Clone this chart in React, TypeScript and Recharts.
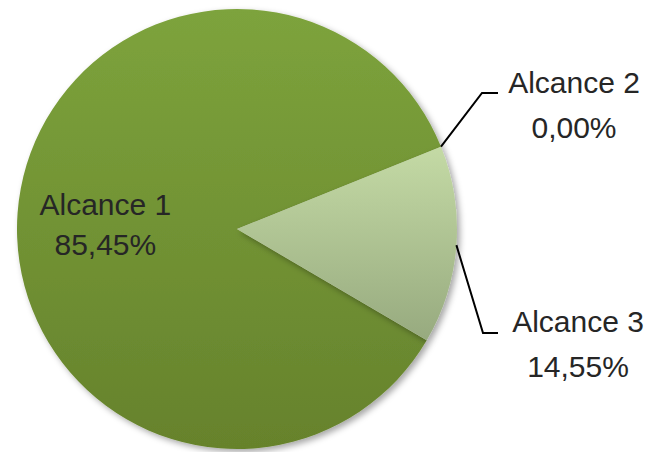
import { PieChart, Pie, Cell } from 'recharts';

const names = ['Alcance 1', 'Alcance 2', 'Alcance 3'];
const shares = [85.45, 0, 14.55];
const fills = ['url(#g1)', 'url(#g1)', 'url(#g3)'];

const data = names.map((name, i) => ({ name, value: shares[i] }));

// callout placement for the labels drawn outside the pie (offsets from the pie centre)
const callouts: Record<string, { elbow: [number, number]; end: [number, number]; text: [number, number] } | undefined> = {
  'Alcance 2': { elbow: [245, -136], end: [261, -136], text: [337, -136] },
  'Alcance 3': { elbow: [246, 104], end: [261, 104], text: [341, 103] },
};

const fmt = (v: number) => v.toFixed(2).replace('.', ',') + '%';
const RAD = Math.PI / 180;

const renderLabel = (p: any) => {
  const { cx, cy, midAngle, outerRadius, index } = p;
  const name = names[index];
  const txt = { fontFamily: '"Liberation Sans", Arial, sans-serif', fontSize: 30, fill: '#262626' };
  const c = callouts[name];
  if (!c) {
    const r = outerRadius * 0.6;
    const x = cx + r * Math.cos(-midAngle * RAD);
    const y = cy + r * Math.sin(-midAngle * RAD);
    return (
      <text x={x} y={y} textAnchor="middle" style={txt}>
        <tspan x={x} dy={-4}>{name}</tspan>
        <tspan x={x} dy={40}>{fmt(shares[index])}</tspan>
      </text>
    );
  }
  const sx = cx + outerRadius * Math.cos(-midAngle * RAD);
  const sy = cy + outerRadius * Math.sin(-midAngle * RAD);
  const tx = cx + c.text[0];
  const ty = cy + c.text[1];
  return (
    <g>
      <path
        d={`M${sx},${sy} L${cx + c.elbow[0]},${cy + c.elbow[1]} L${cx + c.end[0]},${cy + c.end[1]}`}
        stroke="#000"
        strokeWidth={2}
        fill="none"
      />
      <text x={tx} y={ty} textAnchor="middle" style={txt}>
        <tspan x={tx}>{name}</tspan>
        <tspan x={tx} dy={45}>{fmt(shares[index])}</tspan>
      </text>
    </g>
  );
};

export default function App() {
  return (
    <div style={{ width: 654, height: 452, background: '#fff' }}>
      <style>{'body{margin:0}'}</style>
      <PieChart width={654} height={452} margin={{ top: 0, right: 0, bottom: 0, left: 0 }}>
        <defs>
          <linearGradient id="g1" x1="0" y1="0" x2="0" y2="1">
            <stop offset="0%" stopColor="#7DA33C" />
            <stop offset="100%" stopColor="#66822C" />
          </linearGradient>
          <linearGradient id="g3" x1="0" y1="0" x2="0" y2="1">
            <stop offset="0%" stopColor="#C4DAA5" />
            <stop offset="100%" stopColor="#97AA7F" />
          </linearGradient>
          <filter id="sh" x="-10%" y="-10%" width="125%" height="125%">
            <feDropShadow dx="3" dy="3" stdDeviation="3" floodColor="#000" floodOpacity="0.35" />
          </filter>
        </defs>
        <Pie
          data={data}
          dataKey="value"
          nameKey="name"
          cx={237}
          cy={229}
          outerRadius={220}
          startAngle={329.6}
          endAngle={-30.4}
          stroke="none"
          label={renderLabel}
          labelLine={false}
          isAnimationActive={false}
          style={{ filter: 'url(#sh)' }}
        >
          {data.map((d, i) => (
            <Cell key={d.name} fill={fills[i]} />
          ))}
        </Pie>
      </PieChart>
    </div>
  );
}
